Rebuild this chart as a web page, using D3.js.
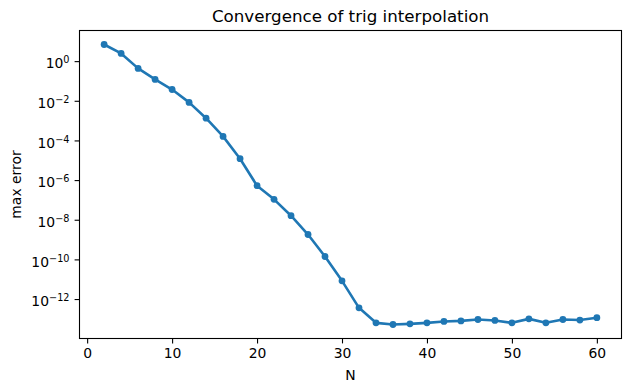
<!DOCTYPE html>
<html>
<head>
<meta charset="utf-8">
<script src="https://cdn.jsdelivr.net/npm/d3@7"></script>
<style>
  html, body { margin: 0; padding: 0; background: #fff; }
  svg { display: block; font-family: "DejaVu Sans", sans-serif; }
</style>
</head>
<body>
<svg id="chart" width="631" height="391"></svg>
<script>
// ---- data ----
const N = [2, 4, 6, 8, 10, 12, 14, 16, 18, 20, 22, 24, 26, 28, 30,
           32, 34, 36, 38, 40, 42, 44, 46, 48, 50, 52, 54, 56, 58, 60];
const maxError = [6.9, 2.45, 0.43, 0.12, 0.037, 0.0083, 0.00132, 1.6e-4, 1.2e-5, 5.2e-7,
                  1.07e-7, 1.6e-8, 1.8e-9, 1.4e-10, 8.3e-12, 3.6e-13, 6.3e-14, 5.2e-14, 5.6e-14, 6.3e-14,
                  7.4e-14, 7.9e-14, 9.3e-14, 8.3e-14, 6.3e-14, 1.0e-13, 6.3e-14, 9.3e-14, 8.7e-14, 1.15e-13];
const xTicks = [0, 10, 20, 30, 40, 50, 60];
const yTickExponents = [0, -2, -4, -6, -8, -10, -12];
const titleText = "Convergence of trig interpolation";
const xLabelText = "N";
const yLabelText = "max error";

// ---- layout ----
const W = 631, H = 391;
const m = { left: 79.5, right: 621.5, top: 30.5, bottom: 338.5 };
const color = "#1f77b4";
const tickFont = 13.9;

const svg = d3.select("#chart");

// domains with matplotlib-like 5% margins
const xMin = d3.min(N), xMax = d3.max(N), xPad = (xMax - xMin) * 0.05;
const x = d3.scaleLinear().domain([xMin - xPad, xMax + xPad]).range([m.left, m.right]);

const lMin = Math.log10(d3.min(maxError)), lMax = Math.log10(d3.max(maxError));
const lPad = (lMax - lMin) * 0.05;
const y = d3.scaleLog().domain([Math.pow(10, lMin - lPad), Math.pow(10, lMax + lPad)]).range([m.bottom, m.top]);

// line and markers
const line = d3.line().x((d, i) => x(N[i])).y(d => y(d));
svg.append("path")
  .datum(maxError)
  .attr("d", line)
  .attr("fill", "none")
  .attr("stroke", color)
  .attr("stroke-width", 2.6)
  .attr("stroke-linejoin", "round")
  .attr("stroke-linecap", "butt");

svg.append("g").selectAll("circle")
  .data(maxError)
  .join("circle")
  .attr("cx", (d, i) => x(N[i]))
  .attr("cy", d => y(d))
  .attr("r", 3.4)
  .attr("fill", color);

// x axis
const xAxis = d3.axisBottom(x).tickValues(xTicks).tickSize(4.9).tickPadding(4.5).tickFormat(d3.format("d"));
const gx = svg.append("g").attr("transform", `translate(0,${m.bottom})`).call(xAxis);
gx.select(".domain").remove();
gx.selectAll(".tick line").attr("stroke", "#000").attr("stroke-width", 1.1);
gx.selectAll(".tick text").attr("font-size", tickFont).attr("font-family", "DejaVu Sans").attr("fill", "#000");

// y axis
const yAxis = d3.axisLeft(y).tickValues(yTickExponents.map(e => Math.pow(10, e))).tickSize(4.9).tickFormat("");
const gy = svg.append("g").attr("transform", `translate(${m.left},0)`).call(yAxis);
gy.select(".domain").remove();
gy.selectAll(".tick line").attr("stroke", "#000").attr("stroke-width", 1.1);
gy.selectAll(".tick").each(function(d, i) {
  const t = d3.select(this).append("text")
    .attr("x", -10)
    .attr("y", 6.8)
    .attr("text-anchor", "end")
    .attr("fill", "#000")
    .attr("font-family", "DejaVu Sans")
    .attr("font-size", tickFont);
  t.append("tspan").text("10");
  const e = yTickExponents[i];
  t.append("tspan")
    .attr("font-size", 9.7)
    .attr("dy", -5)
    .text(e < 0 ? "\u2212" + Math.abs(e) : String(e));
});

// frame (spines)
svg.append("rect")
  .attr("x", m.left).attr("y", m.top)
  .attr("width", m.right - m.left).attr("height", m.bottom - m.top)
  .attr("fill", "none").attr("stroke", "#000").attr("stroke-width", 1.1);

// title & labels
svg.append("text")
  .attr("x", (m.left + m.right) / 2).attr("y", 22)
  .attr("text-anchor", "middle").attr("font-size", 16.7).attr("fill", "#000")
  .text(titleText);

svg.append("text")
  .attr("x", (m.left + m.right) / 2).attr("y", 379.5)
  .attr("text-anchor", "middle").attr("font-size", tickFont).attr("fill", "#000")
  .text(xLabelText);

svg.append("text")
  .attr("transform", `translate(20.5,${(m.top + m.bottom) / 2}) rotate(-90)`)
  .attr("text-anchor", "middle").attr("font-size", tickFont).attr("fill", "#000")
  .text(yLabelText);
</script>
</body>
</html>
